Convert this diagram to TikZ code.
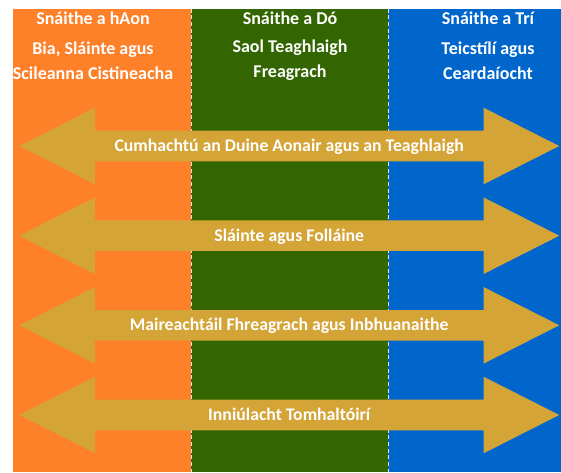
\documentclass[tikz,border=0pt]{standalone}
\usepackage{fontspec}
\setmainfont{Carlito}
\usepackage{xcolor}
\usepackage{tikz}
\usetikzlibrary{shapes.arrows, positioning, calc}
\definecolor{strandorange}{HTML}{FE8029}
\definecolor{strandgreen}{HTML}{336600}
\definecolor{strandblue}{HTML}{0066CC}
\definecolor{bandgold}{HTML}{D4A437}
\tikzset{
  heading/.style={text=white, font=\fontsize{13.5}{15}\selectfont\bfseries, inner sep=0pt},
  topic/.style={text=white, font=\fontsize{13.5}{18.75}\selectfont\bfseries, align=center, inner sep=0pt},
  divider/.style={draw=white!80!gray, line width=0.7pt, dash pattern=on 3pt off 2pt},
  band/.style={double arrow, fill=bandgold, draw=none, text=white, font=\fontsize{13.3}{15}\selectfont\bfseries,
    minimum height=405pt, double arrow head extend=17.25pt, double arrow tip angle=53.7,
    text height=9.5pt, text depth=1pt, inner ysep=6pt, inner xsep=0pt}
}
\begin{document}
\begin{tikzpicture}[x=0.75pt, y=-0.75pt]
        \useasboundingbox (0,0) rectangle (561,472);
        % Columns
        \fill[strandorange] (12.7,8.5) rectangle (191,472);
        \fill[strandgreen] (191,8.5) rectangle (388,472);
        \fill[strandblue] (388,8.5) rectangle (561,472);
        \draw[divider] (191,8.5) -- (191,472);
        \draw[divider] (388,8.5) -- (388,472);

        % Headings
        \node (one) [heading] at (93,18) {Snáithe a hAon};
        \node (two) [heading] at (290,18) {Snáithe a Dó};
        \node (three) [heading] at (488,18) {Snáithe a Trí};
        \node (food) [topic] at (93,60.5) {Bia, Sláinte agus\\Scileanna Cistineacha};
        \node (family) [topic] at (290,60.5) {Saol Teaghlaigh\\Freagrach};
        \node (textiles) [topic] at (488,60.5) {Teicstílí agus\\Ceardaíocht};

        % Arrows
        \node (empower) [band] at (289.25,146) {Cumhachtú an Duine Aonair agus an Teaghlaigh};
        \node (health) [band] at (289.25,235.7) {Sláinte agus Folláine};
        \node (living) [band] at (289.25,325.3) {Maireachtáil Fhreagrach agus Inbhuanaithe};
        \node (consumer) [band] at (289.25,415) {Inniúlacht Tomhaltóirí};
\end{tikzpicture}
\end{document}
